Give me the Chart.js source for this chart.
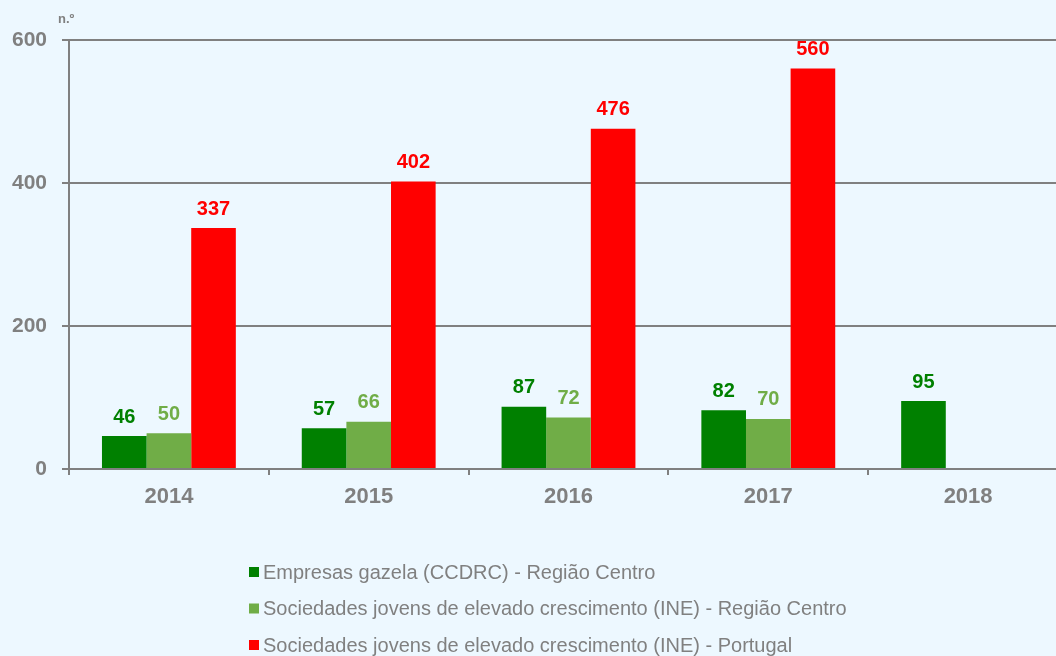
<!DOCTYPE html>
<html>
<head>
<meta charset="utf-8">
<script src="https://cdn.jsdelivr.net/npm/chart.js@4"></script>
<style>
  html, body { margin: 0; padding: 0; background: #edf8ff; overflow: hidden; }
  .wrap { position: relative; width: 1068px; height: 656px; }
</style>
</head>
<body>
<div class="wrap"><canvas id="chart"></canvas></div>
<script>
const years = ['2014', '2015', '2016', '2017', '2018'];
const gazelaCentro = [46, 57, 87, 82, 95];
const jovensCentro = [50, 66, 72, 70, null];
const jovensPortugal = [337, 402, 476, 560, null];
const yTicks = [0, 200, 400, 600];

const seriesNames = [
  'Empresas gazela (CCDRC) - Região Centro',
  'Sociedades jovens de elevado crescimento (INE) - Região Centro',
  'Sociedades jovens de elevado crescimento (INE) - Portugal'
];
const seriesColors = ['#008000', '#70ad47', '#ff0000'];
const grey = '#808080';
const fontFamily = '"Liberation Sans", Arial, sans-serif';

// value labels above each bar
const barLabels = {
  id: 'barLabels',
  afterDatasetsDraw(chart) {
    const ctx = chart.ctx;
    ctx.save();
    ctx.font = 'bold 20px ' + fontFamily;
    ctx.textAlign = 'center';
    ctx.textBaseline = 'bottom';
    chart.data.datasets.forEach((ds, i) => {
      chart.getDatasetMeta(i).data.forEach((bar, j) => {
        if (ds.data[j] == null) return;
        ctx.fillStyle = seriesColors[i];
        ctx.fillText(ds.data[j], bar.x, bar.y - 9);
      });
    });
    ctx.restore();
  }
};

// unit label and legend
const extras = {
  id: 'extras',
  afterDraw(chart) {
    const ctx = chart.ctx;
    const area = chart.chartArea;
    ctx.save();
    ctx.fillStyle = grey;
    ctx.font = 'bold 13px ' + fontFamily;
    ctx.textAlign = 'left';
    ctx.textBaseline = 'alphabetic';
    ctx.fillText('n.º', area.left - 11, area.top - 17);

    ctx.font = '20px ' + fontFamily;
    ctx.textBaseline = 'middle';
    seriesNames.forEach((name, i) => {
      const y = 572 + i * 36.5;
      ctx.fillStyle = seriesColors[i];
      ctx.fillRect(249, y - 5, 10, 10);
      ctx.fillStyle = grey;
      ctx.fillText(name, 263, y + 1);
    });
    ctx.restore();
  }
};

new Chart(document.getElementById('chart'), {
  type: 'bar',
  data: {
    labels: years,
    datasets: [
      { label: seriesNames[0], data: gazelaCentro, backgroundColor: seriesColors[0] },
      { label: seriesNames[1], data: jovensCentro, backgroundColor: seriesColors[1] },
      { label: seriesNames[2], data: jovensPortugal, backgroundColor: seriesColors[2] }
    ]
  },
  options: {
    animation: false,
    responsive: true,
    maintainAspectRatio: false,
    layout: {
      padding: { top: 40, left: 0, right: 0, bottom: 137 }
    },
    datasets: {
      bar: { categoryPercentage: 0.67, barPercentage: 1 }
    },
    scales: {
      x: {
        afterFit: (scale) => { scale.height = 50; },
        grid: {
          offset: true,
          drawOnChartArea: false,
          drawTicks: true,
          tickLength: 6,
          color: grey,
          lineWidth: 2
        },
        border: { color: grey, width: 2 },
        ticks: {
          color: grey,
          padding: 9,
          font: { family: fontFamily, size: 22, weight: 'bold' }
        }
      },
      y: {
        min: 0,
        max: 600,
        afterFit: (scale) => { scale.width = 69; },
        afterBuildTicks: (scale) => { scale.ticks = yTicks.map(v => ({ value: v })); },
        grid: {
          color: grey,
          lineWidth: 2,
          tickLength: 7
        },
        border: { color: grey, width: 2 },
        ticks: {
          color: grey,
          padding: 15,
          font: { family: fontFamily, size: 21, weight: 'bold' }
        }
      }
    },
    plugins: {
      legend: { display: false },
      tooltip: { enabled: false }
    }
  },
  plugins: [barLabels, extras]
});
</script>
</body>
</html>
